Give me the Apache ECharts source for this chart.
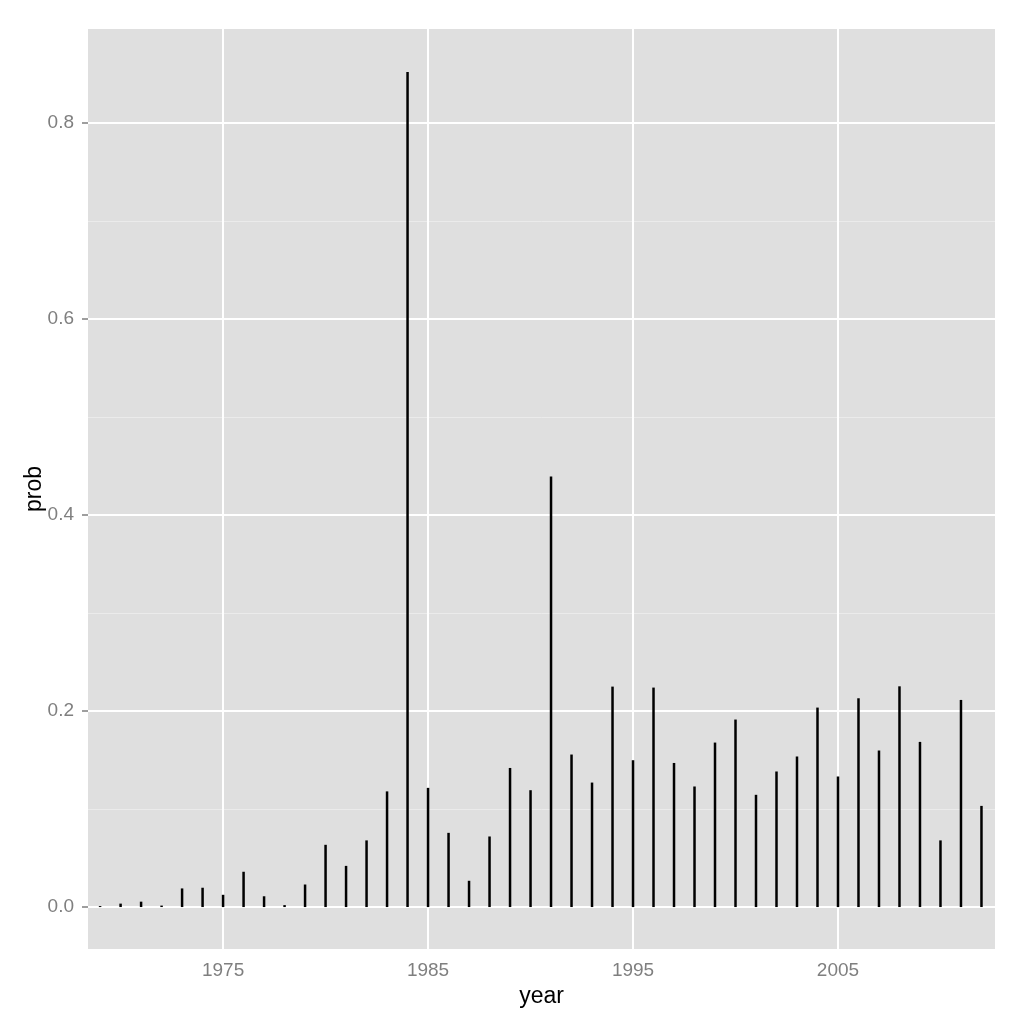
<!DOCTYPE html>
<html>
<head>
<meta charset="utf-8">
<script src="https://cdn.jsdelivr.net/npm/echarts@6/dist/echarts.min.js"></script>
<style>
html,body{margin:0;padding:0;background:#fff;}
#chart{width:1024px;height:1024px;}
</style>
</head>
<body>
<div id="chart"></div>
<script>
const years = [1969,1970,1971,1972,1973,1974,1975,1976,1977,1978,1979,1980,1981,1982,1983,1984,1985,1986,1987,1988,1989,1990,1991,1992,1993,1994,1995,1996,1997,1998,1999,2000,2001,2002,2003,2004,2005,2006,2007,2008,2009,2010,2011,2012];
const prob = [0.001,0.0035,0.0055,0.0015,0.019,0.0197,0.0125,0.036,0.011,0.002,0.023,0.0635,0.042,0.068,0.118,0.852,0.1216,0.0757,0.0268,0.072,0.1419,0.1192,0.4392,0.1556,0.127,0.2249,0.1498,0.2239,0.147,0.123,0.1678,0.1913,0.1145,0.1383,0.1536,0.2035,0.1332,0.213,0.1597,0.2252,0.1685,0.068,0.2113,0.1032];
const xTicks = [1975,1985,1995,2005];
const yTicks = [0,0.2,0.4,0.6,0.8];
const yMinor = [0.1,0.3,0.5,0.7];

const chart = echarts.init(document.getElementById('chart'), null, {renderer:'canvas'});
const grey = '#7f7f7f';
const font = 'Liberation Sans, Arial, Helvetica, sans-serif';

const gridLines = [];
yMinor.forEach(v => gridLines.push({yAxis: v, lineStyle:{color:'#EBEBEB', width:1, type:'solid'}}));
yTicks.forEach(v => gridLines.push({yAxis: v, lineStyle:{color:'#FFFFFF', width:2, type:'solid'}}));
xTicks.forEach(v => gridLines.push({xAxis: v, lineStyle:{color:'#FFFFFF', width:2, type:'solid'}}));

chart.setOption({
  animation: false,
  backgroundColor: '#ffffff',
  grid: {left: 88, right: 29, top: 29, bottom: 75, show: true, backgroundColor: '#DFDFDF', borderWidth: 0, containLabel: false},
  xAxis: {
    type: 'value', min: 1968.41, max: 2012.66,
    name: 'year', nameLocation: 'middle', nameGap: 36, nameMoveOverlap: false,
    nameTextStyle: {color: '#000', fontSize: 23, fontFamily: font},
    axisLine: {show: false},
    splitLine: {show: false},
    axisTick: {show: true, length: 5, lineStyle: {color: grey, width: 1.5}, customValues: xTicks},
    axisLabel: {color: grey, fontSize: 19, fontFamily: font, margin: 12, customValues: xTicks, formatter: v => String(v)}
  },
  yAxis: {
    type: 'value', min: -0.0428, max: 0.8958,
    name: 'prob', nameLocation: 'middle', nameGap: 42, nameRotate: 90, nameMoveOverlap: false,
    nameTextStyle: {color: '#000', fontSize: 23, fontFamily: font},
    axisLine: {show: false},
    splitLine: {show: false},
    axisTick: {show: true, length: 6, lineStyle: {color: grey, width: 1.5}, customValues: yTicks},
    axisLabel: {color: grey, fontSize: 19, fontFamily: font, margin: 14, customValues: yTicks, formatter: v => v.toFixed(1)}
  },
  series: [
    {
      type: 'line', data: [], z: 1, silent: true, symbol: 'none',
      markLine: {silent: true, symbol: ['none','none'], label: {show: false}, animation: false, data: gridLines}
    },
    {
      type: 'bar', z: 5, barWidth: 2.5, silent: true,
      itemStyle: {color: '#000000'},
      data: years.map((y, i) => [y, prob[i]])
    }
  ]
});
</script>
</body>
</html>
